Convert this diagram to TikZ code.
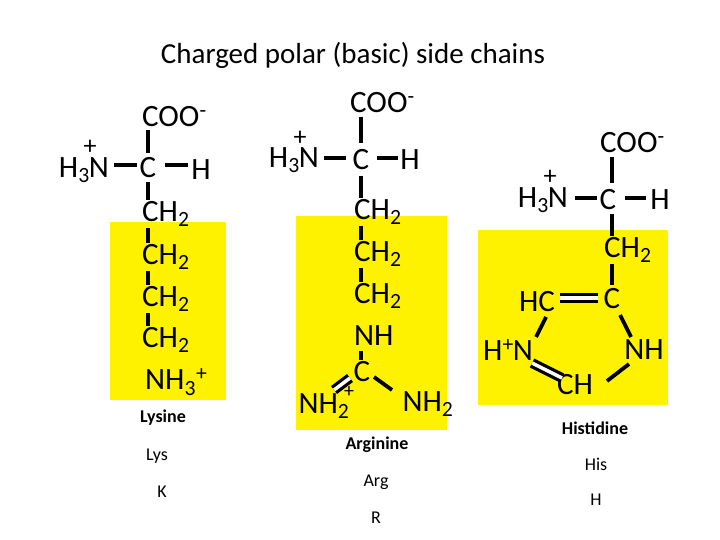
\documentclass[tikz,border=0pt]{standalone}
\usepackage{fontspec}
\setmainfont{Carlito}
\begin{document}
\begin{tikzpicture}[x=1pt,y=-1pt,
 atm/.style={font=\fontsize{31}{31}\selectfont, inner sep=0pt},
 pls/.style={font=\fontsize{26}{26}\selectfont, inner sep=0pt},
 lab/.style={font=\fontsize{18}{18}\selectfont},
 labb/.style={font=\bfseries\fontsize{18}{18}\selectfont},
 bnd/.style={line width=3.8pt},
 dbl/.style={double, double distance=3.5pt, line width=3.2pt}]
\useasboundingbox (0,0) rectangle (720,540);
\fill[white] (0,0) rectangle (720,540);
\fill[yellow] (110,222) rectangle (226,400);
\fill[yellow] (296,216) rectangle (447,430);
\fill[yellow] (478,230) rectangle (668,405);
\node[font=\fontsize{29}{29}\selectfont] (title) at (353,55) {Charged polar (basic) side chains};
% Lysine
\node[atm,anchor=west] (lcoo) at (142,117) {COO\textsuperscript{-}};
\node[atm] (lc) at (148,168) {C};
\node[atm,anchor=east] (ln) at (109,170) {H\textsubscript{3}\kern-1pt N};
\node[pls] (lp) at (90,147) {+};
\node[atm] (lh) at (201,170) {H};
\node[atm,anchor=west] (l1) at (142,214) {CH\textsubscript{2}};
\node[atm,anchor=west] (l2) at (142,257) {CH\textsubscript{2}};
\node[atm,anchor=west] (l3) at (142,299) {CH\textsubscript{2}};
\node[atm,anchor=west] (l4) at (142,340) {CH\textsubscript{2}};
\node[atm,anchor=west] (l5) at (145,382) {NH\textsubscript{3}\textsuperscript{+}};
\node[labb] (lname) at (163,418) {Lysine};
\node[lab] (lab1) at (157,456) {Lys};
\node[lab] (lab2) at (162,492) {K};
\draw[bnd] (148,130) -- (148,153);
\draw[bnd] (114,165) -- (137,165);
\draw[bnd] (165,165) -- (188,165);
\draw[bnd] (148,182) -- (148,200);
\draw[bnd] (148,228) -- (148,243);
\draw[bnd] (148,271) -- (148,285);
\draw[bnd] (148,313) -- (148,326);
% Arginine
\node[atm,anchor=west] (acoo) at (350,103) {COO\textsuperscript{-}};
\node[atm] (ac) at (361,160) {C};
\node[atm,anchor=east] (an) at (319,160) {H\textsubscript{3}\kern-1pt N};
\node[pls] (ap) at (300,138) {+};
\node[atm] (ah) at (410,160) {H};
\node[atm,anchor=west] (a1) at (354,212) {CH\textsubscript{2}};
\node[atm,anchor=west] (a2) at (354,254) {CH\textsubscript{2}};
\node[atm,anchor=west] (a3) at (354,296) {CH\textsubscript{2}};
\node[atm,anchor=west] (anh) at (354,336) {NH};
\node[atm] (acc) at (362,372) {C};
\node[atm] (anh2) at (324,406) {NH\textsubscript{2}};
\node[pls,font=\fontsize{20}{20}\selectfont] (ap2) at (349,392) {+};
\node[atm] (anh3) at (428,404) {NH\textsubscript{2}};
\node[labb] (aname) at (377,445) {Arginine};
\node[lab] (alab1) at (376,482) {Arg};
\node[lab] (alab2) at (376,518) {R};
\draw[bnd] (361,117) -- (361,143);
\draw[bnd] (324,158) -- (346,158);
\draw[bnd] (377,158) -- (398,158);
\draw[bnd] (361,176) -- (361,198);
\draw[bnd] (361,226) -- (361,240);
\draw[bnd] (361,268) -- (361,282);
\draw[bnd] (361,351) -- (361,360);
\draw[dbl] (350,378) -- (334,390);
\draw[bnd] (374,377) -- (392,390);
% Histidine
\node[atm,anchor=west] (hcoo) at (600,143) {COO\textsuperscript{-}};
\node[atm] (hc) at (608,200) {C};
\node[atm,anchor=east] (hn) at (568,200) {H\textsubscript{3}\kern-1pt N};
\node[pls] (hp) at (550,177) {+};
\node[atm] (hh) at (660,200) {H};
\node[atm,anchor=west] (h1) at (604,250) {CH\textsubscript{2}};
\node[atm] (hrc) at (612,299) {C};
\node[atm] (hhc) at (537,302) {HC};
\node[atm] (hhn) at (508,350) {H\textsuperscript{+}\kern-1pt N};
\node[atm] (hnh) at (644,350) {NH};
\node[atm] (hch) at (575,385) {CH};
\node[labb] (hname) at (595,428) {Histidine};
\node[lab] (hlab1) at (596,464) {His};
\node[lab] (hlab2) at (596,500) {H};
\draw[bnd] (612,157) -- (612,183);
\draw[bnd] (575,198) -- (597,198);
\draw[bnd] (625,198) -- (646,198);
\draw[bnd] (612,214) -- (612,236);
\draw[bnd] (612,264) -- (612,285);
\draw[dbl] (560,298) -- (598,298);
\draw[bnd] (546,317) -- (536,337);
\draw[bnd] (620,315) -- (631,337);
\draw[dbl] (532,363) -- (562,378);
\draw[bnd] (629,364) -- (607,381);
\end{tikzpicture}
\end{document}
